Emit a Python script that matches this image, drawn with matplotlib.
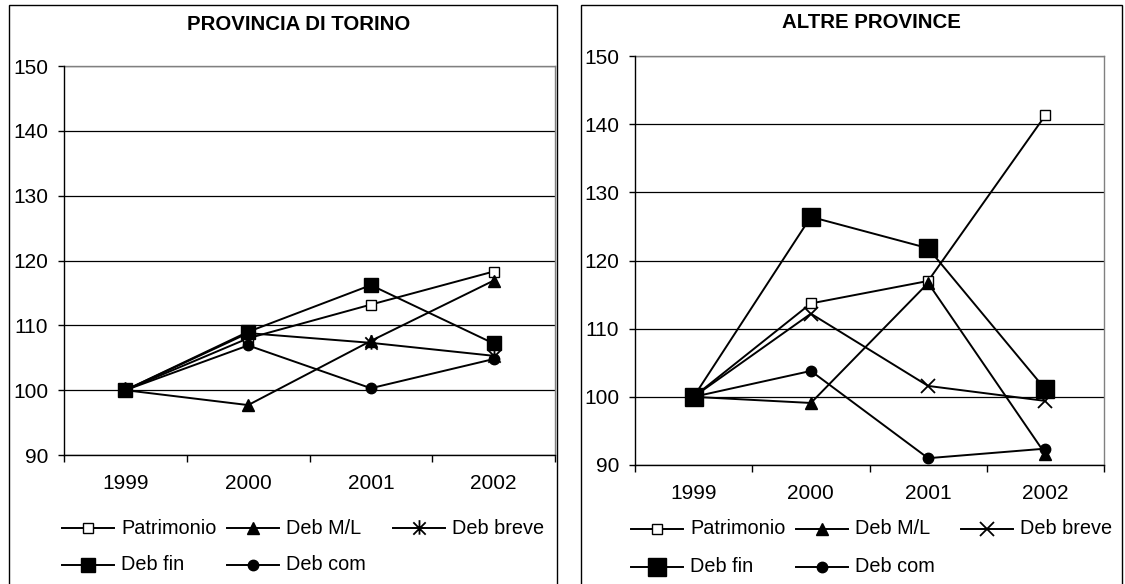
import matplotlib
matplotlib.use("Agg")
import matplotlib.pyplot as plt
from matplotlib.path import Path
from matplotlib.lines import Line2D
from matplotlib.patches import Rectangle

plt.rcParams['font.family'] = ['Liberation Sans', 'DejaVu Sans']

years = ["1999", "2000", "2001", "2002"]
series_names = ["Patrimonio", "Deb M/L", "Deb breve", "Deb fin", "Deb com"]

torino_patrimonio = [100, 108.0, 113.2, 118.3]
torino_deb_ml = [100, 97.7, 107.6, 116.9]
torino_deb_breve = [100, 108.8, 107.3, 105.3]
torino_deb_fin = [100, 109.0, 116.2, 107.2]
torino_deb_com = [100, 106.9, 100.3, 104.8]

altre_patrimonio = [100, 113.7, 117.0, 141.3]
altre_deb_ml = [100, 99.1, 116.7, 91.6]
altre_deb_breve = [100, 112.2, 101.6, 99.4]
altre_deb_fin = [100, 126.4, 121.8, 101.1]
altre_deb_com = [100, 103.8, 91.0, 92.4]

yticks = [90, 100, 110, 120, 130, 140, 150]

W, H = 1125, 584
fig = plt.figure(figsize=(W / 100, H / 100), dpi=100)

def fx(px):
    return px / W

def fy(py):
    return 1 - py / H

asterisk = Path([(-1, -1), (1, 1), (-1, 1), (1, -1), (0, -1.0), (0, 1.35)],
                [Path.MOVETO, Path.LINETO, Path.MOVETO, Path.LINETO, Path.MOVETO, Path.LINETO])

def styles(fin_size, breve_marker, breve_size):
    return [
        dict(marker='s', ms=7, mfc='white', mec='black', mew=1.0),
        dict(marker='^', ms=9, mfc='black', mec='black'),
        dict(marker=breve_marker, ms=breve_size, mfc='none', mec='black', mew=1.3),
        dict(marker='s', ms=fin_size, mfc='black', mec='black'),
        dict(marker='o', ms=7.5, mfc='black', mec='black'),
    ]

def make_panel(rect_px, title, title_xy, data, st, legend_cols, legend_rows, box):
    x0, y0, x1, y1 = rect_px
    ax = fig.add_axes([fx(x0), fy(y1), fx(x1 - x0), (y1 - y0) / H])
    xs = list(range(len(years)))
    for vals, s in zip(data, st):
        ax.plot(xs, vals, color='black', lw=1.4, **s)
    ax.set_xlim(-0.5, 3.5)
    ax.set_ylim(90, 150)
    ax.set_yticks(yticks)
    ax.set_yticklabels([str(v) for v in yticks])
    ax.set_xticks(xs)
    ax.set_xticklabels(years)
    ax.set_xticks([-0.5, 0.5, 1.5, 2.5, 3.5], minor=True)
    ax.tick_params(axis='x', which='major', length=0, pad=14, labelsize=15)
    ax.tick_params(axis='x', which='minor', length=5, width=1, direction='out')
    ax.tick_params(axis='y', length=4.3, width=1, direction='out', pad=7, labelsize=15)
    ax.yaxis.grid(True, color='black', lw=0.9)
    ax.set_axisbelow(True)
    ax.spines['left'].set_color('black')
    ax.spines['bottom'].set_color('black')
    ax.spines['top'].set_color('#808080')
    ax.spines['right'].set_color('#808080')
    for sp in ax.spines.values():
        sp.set_linewidth(1.0)
    ax.spines['left'].set_zorder(3)
    ax.spines['bottom'].set_zorder(3)
    fig.text(fx(title_xy[0]), fy(title_xy[1]), title, ha='center', va='center',
             fontsize=14.7, fontweight='bold')
    # legend (manual, Excel-like equal columns)
    order = [(0, 0, 0), (1, 1, 0), (2, 2, 0), (3, 0, 1), (4, 1, 1)]
    for idx, col, row in order:
        cx = legend_cols[col]
        ry = legend_rows[row]
        s = st[idx]
        ln = Line2D([fx(cx), fx(cx + 52)], [fy(ry), fy(ry)], color='black', lw=1.4,
                    transform=fig.transFigure)
        fig.add_artist(ln)
        mk = Line2D([fx(cx + 26)], [fy(ry)], color='black', lw=0,
                    transform=fig.transFigure, **s)
        fig.add_artist(mk)
        fig.text(fx(cx + 59), fy(ry), series_names[idx], ha='left', va='center', fontsize=14.3)
    bx0, by0, bx1, by1 = box
    fig.add_artist(Rectangle((fx(bx0), fy(by1)), fx(bx1 - bx0), (by1 - by0) / H,
                             fill=False, edgecolor='black', lw=1.0,
                             transform=fig.transFigure))
    return ax

make_panel((64, 66, 555, 455), "PROVINCIA DI TORINO", (299, 24),
           [torino_patrimonio, torino_deb_ml, torino_deb_breve, torino_deb_fin, torino_deb_com],
           styles(10, asterisk, 12), [62, 227, 393], [528, 565], (9, 5, 557, 590))

make_panel((635, 56, 1104, 465), "ALTRE PROVINCE", (871, 23),
           [altre_patrimonio, altre_deb_ml, altre_deb_breve, altre_deb_fin, altre_deb_com],
           styles(12.5, 'x', 9.5), [631, 796, 961], [529, 567], (581, 5, 1122, 590))

fig.savefig("out.png", dpi=100)
